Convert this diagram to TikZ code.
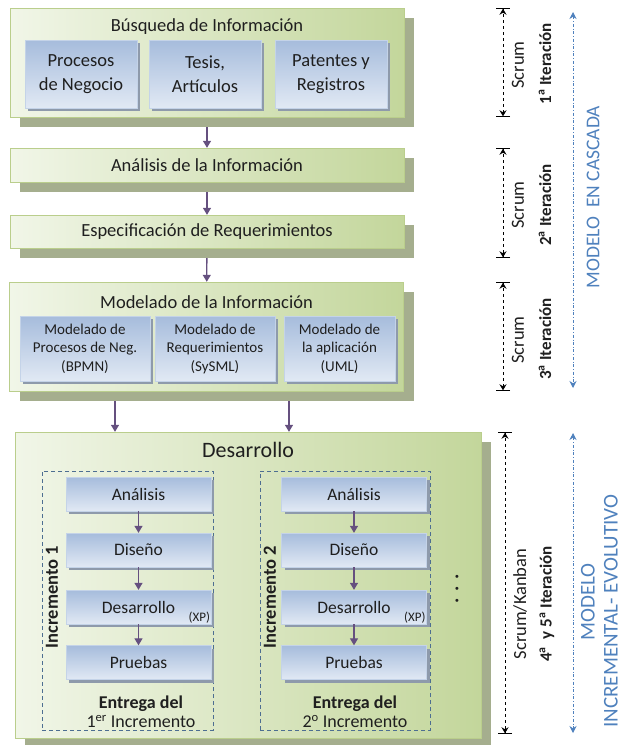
\documentclass[tikz,border=0pt]{standalone}
\usepackage{fontspec}
\setmainfont{Carlito}
\usepackage{xcolor}
\definecolor{phaselight}{HTML}{F1F6E8}
\definecolor{phasedark}{HTML}{C3D69B}
\definecolor{phaseline}{HTML}{BACE8C}
\definecolor{phaseshadow}{HTML}{A5AE8E}
\definecolor{tasktop}{HTML}{A6BCDC}
\definecolor{taskbottom}{HTML}{E1E9F4}
\definecolor{taskline}{HTML}{C4D3E8}
\definecolor{taskshadow}{HTML}{8E9AAB}
\definecolor{flow}{HTML}{65507F}
\definecolor{incframe}{HTML}{4D6E91}
\definecolor{model}{HTML}{4F81BD}
\usetikzlibrary{arrows.meta,shadows}

\begin{document}
\begin{tikzpicture}[x=1pt, y=-1pt,
    every node/.style={font=\fontsize{18.5}{24}\selectfont, text=black!88},
    phase/.style={draw=phaseline, left color=phaselight, right color=phasedark,
                  minimum width=394pt, inner sep=0pt,
                  drop shadow={shadow xshift=10pt, shadow yshift=-10pt,
                               fill=phaseshadow, opacity=1}},
    task/.style={draw=taskline, top color=tasktop, bottom color=taskbottom,
                 align=center, inner sep=0pt,
                 drop shadow={shadow xshift=3pt, shadow yshift=-3pt,
                              fill=taskshadow, opacity=1}},
    small/.style={font=\fontsize{15}{18.5}\selectfont},
    devtask/.style={task, minimum width=145pt, minimum height=34pt,
                    font=\fontsize{17.5}{21}\selectfont},
    xp/.style={font=\fontsize{13}{15}\selectfont, inner sep=1pt, anchor=south east},
    incframe/.style={draw=incframe, dash pattern=on 4pt off 3pt, line width=0.9pt,
                     inner sep=0pt, minimum height=259pt},
    inclabel/.style={rotate=90, font=\bfseries\fontsize{18.5}{22}\selectfont},
    delivery/.style={align=center, font=\fontsize{18}{19}\selectfont},
    side/.style={rotate=90},
    iter/.style={rotate=90, font=\bfseries\fontsize{17}{20}\selectfont},
    modeltxt/.style={rotate=90, text=model, font=\fontsize{19.5}{22}\selectfont},
    arr/.style={-{Triangle[length=7pt,width=8pt]}, draw=flow, line width=1.3pt},
    dim/.style={{Bar[width=14pt]Stealth[length=6pt,width=7pt]}-{Stealth[length=6pt,width=7pt]Bar[width=14pt]},
                dashed, line width=0.9pt},
    modelarr/.style={{Stealth[length=7pt,width=7pt]}-{Stealth[length=7pt,width=7pt]},
                     draw=model, dash dot, line width=0.9pt}]
  \useasboundingbox (0,0) rectangle (623,745);
  % phases
  \node[phase, minimum height=109pt] (b1) at (207,62.5) {};
  \node (b1t) at (207,27) {Búsqueda de Información};
  \node[task, minimum width=112pt, minimum height=68pt] (p1) at (81,74) {Procesos\\de Negocio};
  \node[task, minimum width=112pt, minimum height=68pt] (p2) at (205,74) {Tesis,\\Artículos};
  \node[task, minimum width=112pt, minimum height=68pt] (p3) at (331,74) {Patentes y\\Registros};
  \node[phase, minimum height=34pt] (b2) at (207,165) {Análisis de la Información};
  \node[phase, minimum height=33pt] (b3) at (207,231.5) {Especificación de Requerimientos};
  \node[phase, minimum height=109pt] (b4) at (206.5,336.5) {};
  \node (b4t) at (206.5,302) {Modelado de la Información};
  \node[task, small, minimum width=130pt, minimum height=65pt] (m1) at (85,348.5)
       {Modelado de\\Procesos de Neg.\\(BPMN)};
  \node[task, small, minimum width=120pt, minimum height=65pt] (m2) at (215,348.5)
       {Modelado de\\Requerimientos\\(SySML)};
  \node[task, small, minimum width=111pt, minimum height=65pt] (m3) at (339.5,348.5)
       {Modelado de\\la aplicación\\(UML)};
  \node[phase, minimum width=466pt, minimum height=306pt] (b5) at (248,585) {};
  \node[font=\fontsize{22}{24}\selectfont] (b5t) at (248,450) {Desarrollo};
  % increments
  \node[incframe, minimum width=171pt] (f1) at (127.5,600.5) {};
  \node[incframe, minimum width=170pt] (f2) at (345,600.5) {};
  \node[devtask] (a1) at (138.5,494) {Análisis};
  \node[devtask] (d1) at (138.5,550) {Diseño};
  \node[devtask] (x1) at (138.5,607) {Desarrollo};
  \node[devtask] (t1) at (138.5,662.5) {Pruebas};
  \node[xp] (xp1) at (x1.south east) {(XP)};
  \node[devtask] (a2) at (354,494) {Análisis};
  \node[devtask] (d2) at (354,550) {Diseño};
  \node[devtask] (x2) at (354,607) {Desarrollo};
  \node[devtask] (t2) at (354,662.5) {Pruebas};
  \node[xp] (xp2) at (x2.south east) {(XP)};
  \node[inclabel] (i1) at (52,597) {Incremento 1};
  \node[inclabel] (i2) at (270,597) {Incremento 2};
  \node[delivery] (e1) at (141,712) {\textbf{Entrega del}\\1\textsuperscript{er} Incremento};
  \node[delivery] (e2) at (355,712) {\textbf{Entrega del}\\2\textsuperscript{o} Incremento};
  \node[rotate=90, font=\bfseries\fontsize{20}{22}\selectfont] (more) at (457,589) {.\,\,.\,\,.};
  % flow
  \draw[arr, shorten <=10pt] (b1) -- (b2);
  \draw[arr, shorten <=10pt] (b2) -- (b3);
  \draw[arr, shorten <=10pt] (b3) -- (b4);
  \draw[arr, shorten <=10pt] ([xshift=-91.5pt]b4.south) -- ([xshift=-91.5pt]b4.south |- b5.north);
  \draw[arr, shorten <=10pt] ([xshift=82.5pt]b4.south) -- ([xshift=82.5pt]b4.south |- b5.north);
  \draw[arr] (a1) -- (d1);
  \draw[arr] (d1) -- (x1);
  \draw[arr] (x1) -- (t1);
  \draw[arr] (a2) -- (d2);
  \draw[arr] (d2) -- (x2);
  \draw[arr] (x2) -- (t2);
  % iterations
  \coordinate (dimA) at (503,0);
  \coordinate (dimB) at (505,0);
  \draw[dim] (b1.north -| dimA) -- (b1.south -| dimA);
  \draw[dim] (b2.north -| dimA) -- ([yshift=-10pt]b3.south -| dimA);
  \draw[dim] (b4.north -| dimA) -- (b4.south -| dimA);
  \draw[dim] (b5.north -| dimB) -- ([yshift=4pt]b5.south -| dimB);
  \node[side] (s1) at (518,65) {Scrum};
  \node[iter] (it1) at (545,64) {1\textsuperscript{a} Iteración};
  \node[side] (s2) at (518,205) {Scrum};
  \node[iter] (it2) at (545,205) {2\textsuperscript{a} Iteración};
  \node[side] (s3) at (518,340) {Scrum};
  \node[iter] (it3) at (545,339) {3\textsuperscript{a} Iteración};
  \node[side] (s4) at (520,604) {Scrum/Kanban};
  \node[iter] (it4) at (547,604) {4\textsuperscript{a}\ \ y 5\textsuperscript{a} Iteración};
  % models
  \coordinate (casTop) at (573,12);
  \coordinate (casBot) at (573,388);
  \coordinate (incTop) at (573,433);
  \coordinate (incBot) at (573,733);
  \draw[modelarr] (casTop) -- (casBot);
  \draw[modelarr] (incTop) -- (incBot);
  \node[modeltxt] (mc) at (593,197) {MODELO\ \ EN CASCADA};
  \node[modeltxt, font=\fontsize{21}{24}\selectfont] (mi1) at (588,602) {MODELO};
  \node[modeltxt, font=\fontsize{21}{24}\selectfont] (mi2) at (611,611) {INCREMENTAL- EVOLUTIVO};
\end{tikzpicture}
\end{document}
